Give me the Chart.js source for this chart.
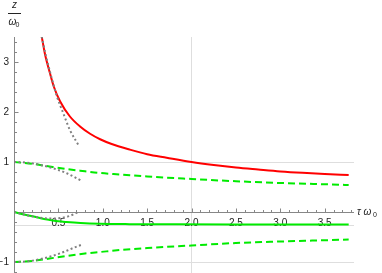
<!DOCTYPE html>
<html>
<head>
<meta charset="utf-8">
<script src="https://cdn.jsdelivr.net/npm/chart.js@4.4.1/dist/chart.umd.min.js"></script>
<style>
html, body { margin: 0; padding: 0; background: #fff; }
#graphique { position: relative; width: 382px; height: 273px; }
</style>
</head>
<body>
<div id="graphique"><canvas id="myChart"></canvas></div>
<script>
// valeurs (tau*omega0 , z/omega0)
var redTau = [0.312, 0.35, 0.406, 0.45, 0.52, 0.63, 0.744, 0.857, 0.97, 1.1, 1.3, 1.5, 1.72, 2.0, 2.25, 2.5, 2.75, 3.0, 3.25, 3.5, 3.77];
var redZ   = [3.51, 3.15, 2.77, 2.50, 2.21, 1.91, 1.71, 1.565, 1.455, 1.36, 1.25, 1.155, 1.085, 1.00, 0.94, 0.89, 0.85, 0.812, 0.783, 0.76, 0.74];

var greenTau      = [0, 0.22, 0.4, 0.59, 0.8, 0.97, 1.2, 1.5, 2.0, 2.5, 3.0, 3.5, 3.77];
var greenUpperZ   = [1, 0.96, 0.91, 0.86, 0.815, 0.78, 0.75, 0.71, 0.66, 0.615, 0.58, 0.555, 0.54];
var greenLowerZ   = [-1, -0.975, -0.93, -0.88, -0.83, -0.80, -0.76, -0.72, -0.67, -0.62, -0.59, -0.565, -0.55];

var greenSolidTau = [0, 0.1, 0.22, 0.3, 0.41, 0.5, 0.59, 0.75, 0.97, 1.3, 1.8, 2.5, 3.77];
var greenSolidZ   = [0, -0.045, -0.09, -0.125, -0.16, -0.185, -0.2, -0.22, -0.235, -0.243, -0.247, -0.25, -0.25];

var grayTopTau = [0.312, 0.36, 0.406, 0.48, 0.556, 0.63, 0.736];
var grayTopZ   = [3.51, 3.12, 2.80, 2.33, 1.97, 1.64, 1.31];

var graySideTau   = [0, 0.1, 0.2, 0.3, 0.4, 0.5, 0.6, 0.68, 0.755];
var grayUpperZ    = [1, 0.995, 0.975, 0.94, 0.895, 0.84, 0.77, 0.70, 0.63];
var grayLowerZ    = [-1, -0.995, -0.975, -0.94, -0.895, -0.84, -0.77, -0.71, -0.66];

var grayMidTau = [0, 0.1, 0.2, 0.3, 0.4, 0.5, 0.6, 0.66, 0.725];
var grayMidZ   = [0, -0.045, -0.085, -0.115, -0.13, -0.125, -0.095, -0.055, 0.0];

// axes
var xTickValues = [0.5, 1.0, 1.5, 2.0, 2.5, 3.0, 3.5];
var xTickLabels = ['0.5', '1.0', '1.5', '2.0', '2.5', '3.0', '3.5'];
var yTickValues = [-1, 1, 2, 3];
var yTickLabels = ['\u22121', '1', '2', '3'];
var xGridLines = [2];
var yGridLines = [1, -0.265, -1];
var xMinorStep = 0.1, yMinorStep = 0.2;


function points(xs, ys)
{
    return xs.map(function(v, i){ return {x: v, y: ys[i]}; });
}

function serie(xs, ys, couleur, tirets)
{
    return {
        data: points(xs, ys),
        showLine: true,
        borderColor: couleur,
        backgroundColor: couleur,
        borderWidth: 2,
        borderDash: tirets,
        borderCapStyle: 'butt',
        pointRadius: 0,
        cubicInterpolationMode: 'monotone',
        fill: false
    };
}

var gris = 'rgb(128,128,128)';
var vert = 'rgb(0,235,0)';
var rouge = 'rgb(255,0,0)';

// les premiers jeux sont dessinés au-dessus
var datasets = [
    serie(grayTopTau, grayTopZ, gris, [2, 2.5]),
    serie(graySideTau, grayUpperZ, gris, [2, 2.5]),
    serie(graySideTau, grayLowerZ, gris, [2, 2.5]),
    serie(grayMidTau, grayMidZ, gris, [2, 2.5]),
    serie(greenTau, greenUpperZ, vert, [7, 4]),
    serie(greenTau, greenLowerZ, vert, [7, 4]),
    serie(greenSolidTau, greenSolidZ, vert, []),
    serie(redTau, redZ, rouge, [])
];

var couleurAxe = 'rgb(135,135,135)';
var couleurTexte = '#222';

var axesPlugin = {
    id: 'axesAuZero',
    beforeDatasetsDraw: function(chart)
    {
        var ctx = chart.ctx, xs = chart.scales.x, ys = chart.scales.y;
        var x0 = Math.round(xs.getPixelForValue(0)) + 0.5;
        var y0 = Math.round(ys.getPixelForValue(0)) + 0.5;
        ctx.save();
        ctx.strokeStyle = couleurAxe;
        ctx.lineWidth = 1;

        ctx.beginPath();
        ctx.moveTo(xs.left, y0); ctx.lineTo(xs.right, y0);
        ctx.moveTo(x0, ys.top); ctx.lineTo(x0, ys.bottom);
        ctx.stroke();

        // petites graduations
        ctx.beginPath();
        for (var i = 1; i * xMinorStep <= xs.max; i++)
        {
            var px = Math.round(xs.getPixelForValue(i * xMinorStep)) + 0.5;
            var long = (i % 5 == 0) ? 4 : 2.5;
            ctx.moveTo(px, y0); ctx.lineTo(px, y0 - long);
        }
        for (var j = Math.ceil(ys.min / yMinorStep); j * yMinorStep <= ys.max; j++)
        {
            if (j == 0) continue;
            var py = Math.round(ys.getPixelForValue(j * yMinorStep)) + 0.5;
            var l = (j % 5 == 0) ? 4 : 2.5;
            ctx.moveTo(x0, py); ctx.lineTo(x0 + l, py);
        }
        ctx.stroke();

        ctx.fillStyle = couleurTexte;
        ctx.font = '10px "Liberation Sans", Arial, sans-serif';
        ctx.textAlign = 'center';
        ctx.textBaseline = 'middle';
        xTickValues.forEach(function(v, k){
            ctx.fillText(xTickLabels[k], xs.getPixelForValue(v), y0 + 10.5);
        });
        ctx.textAlign = 'right';
        yTickValues.forEach(function(v, k){
            ctx.fillText(yTickLabels[k], x0 - 5.5, ys.getPixelForValue(v));
        });

        // titre axe vertical : z / omega0
        ctx.textAlign = 'center';
        ctx.font = 'italic 10px "Liberation Sans", Arial, sans-serif';
        ctx.fillText('z', x0, 5);
        ctx.beginPath();
        ctx.strokeStyle = couleurTexte;
        ctx.moveTo(8, 13.5); ctx.lineTo(21, 13.5);
        ctx.stroke();
        ctx.textAlign = 'left';
        ctx.fillText('\u03c9', 8.5, 22);
        ctx.font = '7px "Liberation Sans", Arial, sans-serif';
        ctx.fillText('0', 15.5, 25);

        // titre axe horizontal : tau omega0
        ctx.font = 'italic 10px "Liberation Sans", Arial, sans-serif';
        ctx.fillText('\u03c4 \u03c9', 357, y0);
        ctx.font = '7px "Liberation Sans", Arial, sans-serif';
        ctx.fillText('0', 373, y0 + 3);
        ctx.restore();
    }
};

var ctx = document.getElementById('myChart').getContext('2d');
var myChart = new Chart(ctx, {
    type: 'scatter',
    data: { datasets: datasets },
    plugins: [axesPlugin],
    options: {
        responsive: true,
        maintainAspectRatio: false,
        animation: false,
        layout: { padding: { left: 14, right: 28, top: 37, bottom: 0 } },
        plugins: { legend: { display: false }, tooltip: { enabled: false } },
        scales: {
            x: {
                type: 'linear', min: 0, max: 3.83,
                ticks: { display: false },
                border: { display: false },
                grid: { drawTicks: false, color: 'rgb(222,222,222)', lineWidth: 1 },
                afterBuildTicks: function(scale){ scale.ticks = xGridLines.map(function(v){ return {value: v}; }); }
            },
            y: {
                type: 'linear', min: -1.22, max: 3.5,
                ticks: { display: false },
                border: { display: false },
                grid: { drawTicks: false, color: 'rgb(222,222,222)', lineWidth: 1 },
                afterBuildTicks: function(scale){ scale.ticks = yGridLines.map(function(v){ return {value: v}; }); }
            }
        }
    }
});
</script>
</body>
</html>
